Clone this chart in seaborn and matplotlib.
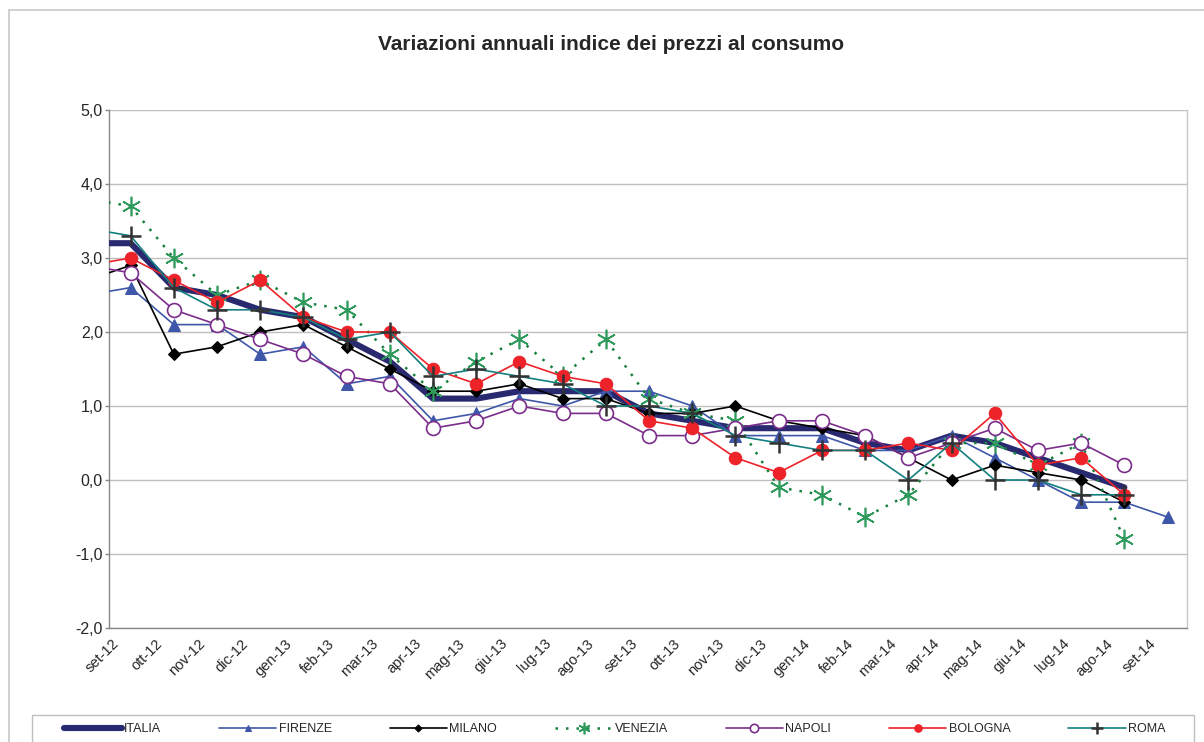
import numpy as np
import pandas as pd
import matplotlib
matplotlib.use("Agg")
import matplotlib.pyplot as plt
from matplotlib.patches import Rectangle
from matplotlib.transforms import ScaledTranslation
import seaborn as sns

nan = np.nan
# first entry (ago-12) lies just outside the visible axis range
months = ["ago-12", "set-12", "ott-12", "nov-12", "dic-12", "gen-13", "feb-13", "mar-13",
          "apr-13", "mag-13", "giu-13", "lug-13", "ago-13", "set-13", "ott-13", "nov-13",
          "dic-13", "gen-14", "feb-14", "mar-14", "apr-14", "mag-14", "giu-14", "lug-14",
          "ago-14", "set-14"]

italia  = [3.2, 3.2, 2.6, 2.5, 2.3, 2.2, 1.9, 1.6, 1.1, 1.1, 1.2, 1.2, 1.2, 0.9, 0.8, 0.7,
           0.7, 0.7, 0.5, 0.4, 0.6, 0.5, 0.3, 0.1, -0.1, nan]
firenze = [2.5, 2.6, 2.1, 2.1, 1.7, 1.8, 1.3, 1.4, 0.8, 0.9, 1.1, 1.0, 1.2, 1.2, 1.0, 0.6,
           0.6, 0.6, 0.4, 0.4, 0.6, 0.3, 0.0, -0.3, -0.3, -0.5]
milano  = [2.7, 2.9, 1.7, 1.8, 2.0, 2.1, 1.8, 1.5, 1.2, 1.2, 1.3, 1.1, 1.1, 0.9, 0.9, 1.0,
           0.8, 0.7, 0.6, 0.3, 0.0, 0.2, 0.1, 0.0, -0.3, nan]
venezia = [3.8, 3.7, 3.0, 2.5, 2.7, 2.4, 2.3, 1.7, 1.2, 1.6, 1.9, 1.4, 1.9, 1.1, 0.9, 0.8,
           -0.1, -0.2, -0.5, -0.2, 0.5, 0.5, 0.2, 0.5, -0.8, nan]
napoli  = [2.9, 2.8, 2.3, 2.1, 1.9, 1.7, 1.4, 1.3, 0.7, 0.8, 1.0, 0.9, 0.9, 0.6, 0.6, 0.7,
           0.8, 0.8, 0.6, 0.3, 0.5, 0.7, 0.4, 0.5, 0.2, nan]
bologna = [2.9, 3.0, 2.7, 2.4, 2.7, 2.2, 2.0, 2.0, 1.5, 1.3, 1.6, 1.4, 1.3, 0.8, 0.7, 0.3,
           0.1, 0.4, 0.4, 0.5, 0.4, 0.9, 0.2, 0.3, -0.2, nan]
roma    = [3.4, 3.3, 2.6, 2.3, 2.3, 2.2, 1.9, 2.0, 1.4, 1.5, 1.4, 1.3, 1.0, 1.0, 0.9, 0.6,
           0.5, 0.4, 0.4, 0.0, 0.5, 0.0, 0.0, -0.2, -0.2, nan]

yticks = [-2, -1, 0, 1, 2, 3, 4, 5]
title = "Variazioni annuali indice dei prezzi al consumo"

sns.set_theme(style="white")
plt.rcParams["font.family"] = ["Liberation Sans", "DejaVu Sans"]

W, H = 1204, 742
fig = plt.figure(figsize=(W / 100, H / 100), dpi=100)
ax = fig.add_axes([109 / W, 1 - 628 / H, (1187 - 109) / W, (628 - 110) / H])

xpos = np.arange(len(months)) - 1
df = pd.DataFrame({"x": xpos, "ITALIA": italia, "FIRENZE": firenze, "MILANO": milano,
                   "VENEZIA": venezia, "NAPOLI": napoli, "BOLOGNA": bologna, "ROMA": roma})

styles = {
    "ITALIA":  dict(color="#29296F", lw=4.4),
    "FIRENZE": dict(color="#3F57A8", lw=1.2, marker="^", ms=8, mfc="#3F57A8", mec="#3F57A8"),
    "MILANO":  dict(color="#000000", lw=1.2, marker="D", ms=6, mfc="#000000", mec="#000000"),
    "VENEZIA": dict(color="#17803E", lw=1.8, ls=(0, (1, 3.2)), marker=(6, 2, 0), ms=14,
                    mec="#2E9A5C", mew=1.2),
    "NAPOLI":  dict(color="#7B2D8B", lw=1.2, marker="o", ms=10, mfc="white", mec="#7B2D8B", mew=1.2),
    "BOLOGNA": dict(color="#EE2229", lw=1.2, marker="o", ms=9, mfc="#EE2229", mec="#EE2229"),
    "ROMA":    dict(color="#13807F", lw=1.2, marker="+", ms=15, mec="#333333", mew=1.8),
}

for name, st in styles.items():
    sub = df[["x", name]].dropna()
    sns.lineplot(data=sub, x="x", y=name, ax=ax, sort=False, estimator=None,
                 label=name, zorder=3, **st)

ax.set_xlim(-0.5, 24.45)
ax.set_ylim(-2, 5)
ax.tick_params(axis="x", length=0, pad=4)
ax.tick_params(axis="y", length=3, width=1, color="#888888", direction="out", pad=1.5, left=True)
ax.set_yticks(yticks)
ax.set_yticklabels([f"{v:.1f}".replace(".", ",") for v in yticks], fontsize=11.5)
ax.set_xticks(np.arange(0, 25))
ax.set_xticklabels(months[1:], rotation=45, ha="right", va="center",
                   rotation_mode="anchor", fontsize=10.5)
off = ScaledTranslation(-0.14, -0.08, fig.dpi_scale_trans)
for lab in ax.get_xticklabels():
    lab.set_transform(lab.get_transform() + off)
ax.set_xlabel("")
ax.set_ylabel("")
ax.grid(axis="y", color="#BFBFBF", lw=1)
ax.set_axisbelow(True)
for side in ["left", "bottom"]:
    ax.spines[side].set_color("#888888")
    ax.spines[side].set_linewidth(1)
ax.spines["top"].set_visible(False)
ax.spines["right"].set_color("#C8C8C8")
ax.spines["right"].set_linewidth(1)

handles, labels = ax.get_legend_handles_labels()
ax.get_legend().remove()
fig.legend(handles, labels, loc="center left", bbox_to_anchor=(58 / W, 1 - 729 / H),
           ncol=7, frameon=False, fontsize=9, handlelength=4.6, handletextpad=0.2,
           columnspacing=4.6, borderpad=0, markerscale=0.6)

fig.add_artist(Rectangle((32 / W, -0.05), (1194 - 32) / W, 0.05 + (742 - 715) / H,
                         transform=fig.transFigure, fill=False, edgecolor="#BFBFBF", lw=1))
fig.add_artist(Rectangle((9 / W, -0.05), 1.1, 0.05 + 1 - 10 / H,
                         transform=fig.transFigure, fill=False, edgecolor="#C8C8C8", lw=1.2))

fig.text(611 / W, 1 - 44 / H, title, ha="center", va="center", fontsize=15, fontweight="bold")

fig.savefig("out.png", dpi=100)
